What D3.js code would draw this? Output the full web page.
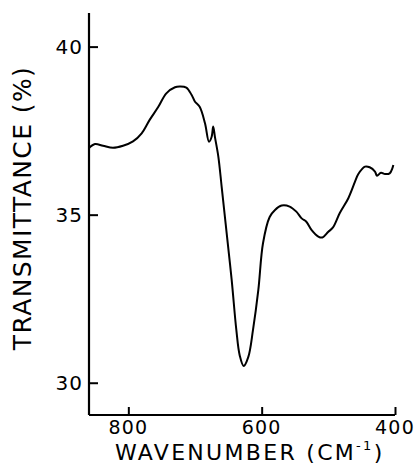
<!doctype html>
<html>
<head>
<meta charset="utf-8">
<style>
    body { margin: 0; background: #fff; }
    svg text { font-family: "DejaVu Sans", sans-serif; fill: #000; }
</style>
<script src="https://d3js.org/d3.v7.min.js"></script>
</head>
<body>
<svg id="chart" width="418" height="466"></svg>
<script>

    // wavenumber (cm-1) and transmittance (%)
    var wavenumber = [859, 850, 838, 823, 808, 793, 780, 768, 755, 743, 730, 723, 713, 705, 700, 693,
                      685, 679, 675, 672.7, 670, 665, 660, 653, 645, 638, 633, 627, 620, 613, 605, 598,
                      588, 580, 570, 558, 548, 540, 533, 525, 515, 509, 500, 493, 483, 470, 460, 455,
                      445, 438, 430, 427, 421, 415, 408, 404, 402.5];
    var transmittance = [36.98, 37.10, 37.05, 36.99, 37.05, 37.18, 37.42, 37.82, 38.21, 38.61, 38.79, 38.81, 38.78, 38.56, 38.36, 38.21,
                         37.72, 37.17, 37.32, 37.62, 37.30, 36.73, 35.83, 34.54, 33.06, 31.57, 30.82, 30.50, 30.77, 31.57, 32.76, 34.15,
                         34.93, 35.14, 35.27, 35.24, 35.09, 34.89, 34.79, 34.54, 34.35, 34.32, 34.49, 34.62, 35.04, 35.49, 35.98, 36.21,
                         36.43, 36.41, 36.28, 36.16, 36.25, 36.21, 36.23, 36.38, 36.48];

    var xTicks = [800, 600, 400];
    var yTicks = [30, 35, 40];

    var svg = d3.select("#chart");

    var x = d3.scaleLinear().domain([859, 400]).range([89, 395]);
    var y = d3.scaleLinear().domain([29.04, 41.0]).range([415, 13]);

    var data = wavenumber.map(function(w, i) { return [w, transmittance[i]]; });

    // ticks point inward like the original plot
    var gx = svg.append("g").attr("transform", "translate(0,415)")
        .call(d3.axisTop(x).tickValues(xTicks).tickSize(8).tickFormat(""));
    var gy = svg.append("g").attr("transform", "translate(89,0)")
        .call(d3.axisRight(y).tickValues(yTicks).tickSize(9).tickFormat(""));

    [gx, gy].forEach(function(g) {
        g.select(".domain").remove();
        g.selectAll(".tick line").attr("stroke", "#000").attr("stroke-width", 2);
    });

    svg.append("line")
        .attr("x1", x(859)).attr("x2", x(400))
        .attr("y1", y(29.04)).attr("y2", y(29.04))
        .attr("stroke", "#000").attr("stroke-width", 2.2);
    svg.append("line")
        .attr("x1", x(859)).attr("x2", x(859))
        .attr("y1", y(29.04)).attr("y2", y(41.0))
        .attr("stroke", "#000").attr("stroke-width", 2.2);

    svg.selectAll(".xlab")
        .data(xTicks)
        .enter().append("text")
        .attr("class", "xlab")
        .attr("x", function(d) { return x(d); })
        .attr("y", 434)
        .attr("text-anchor", "middle")
        .attr("font-size", "19px")
        .attr("letter-spacing", "1.2px")
        .text(function(d) { return d; });

    svg.selectAll(".ylab")
        .data(yTicks)
        .enter().append("text")
        .attr("class", "ylab")
        .attr("x", 83)
        .attr("y", function(d) { return y(d) + 7; })
        .attr("text-anchor", "end")
        .attr("font-size", "20px")
        .attr("letter-spacing", "1px")
        .text(function(d) { return d; });

    var xt = svg.append("text")
        .attr("x", 115)
        .attr("y", 460)
        .attr("font-size", "22px")
        .attr("letter-spacing", "2.3px");
    xt.append("tspan").text("WAVENUMBER (CM");
    xt.append("tspan").attr("font-size", "13px").attr("dy", -10).text("-1");
    xt.append("tspan").attr("dy", 10).text(")");

    svg.append("text")
        .attr("transform", "translate(31,208) rotate(-90)")
        .attr("text-anchor", "middle")
        .attr("font-size", "25px")
        .attr("letter-spacing", "1.4px")
        .text("TRANSMITTANCE (%)");

    svg.append("path")
        .datum(data)
        .attr("fill", "none")
        .attr("stroke", "#000")
        .attr("stroke-width", 2)
        .attr("stroke-linejoin", "round")
        .attr("d", d3.line()
            .x(function(d) { return x(d[0]); })
            .y(function(d) { return y(d[1]); })
            .curve(d3.curveCatmullRom.alpha(0.5)));

</script>
</body>
</html>
